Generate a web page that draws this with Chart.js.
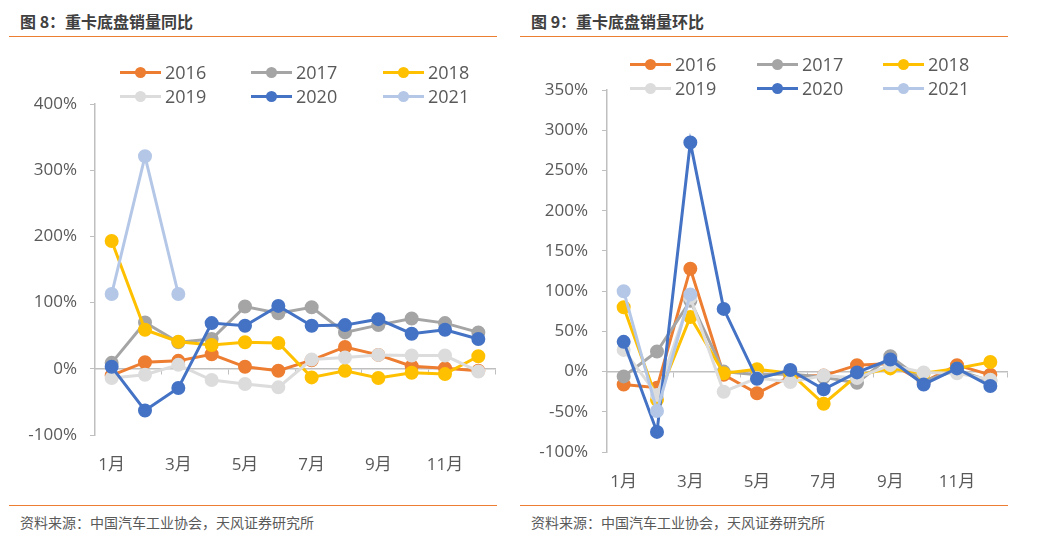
<!DOCTYPE html>
<html>
<head>
<meta charset="utf-8">
<script src="https://cdn.jsdelivr.net/npm/chart.js@4.4.1/dist/chart.umd.min.js"></script>
<style>
body { margin: 0; width: 1042px; height: 543px; background: #fff; position: relative; overflow: hidden;
  font-family: "Open Sans", "Noto Sans CJK SC", sans-serif; color: #595959; }
.title { position: absolute; top: 9px; font-size: 16px; font-weight: bold; color: #404040; line-height: 24px;
  font-family: "Noto Sans CJK SC", sans-serif; }
.rule { position: absolute; height: 1px; background: #ED7D31; }
.src { position: absolute; top: 512px; font-size: 14px; line-height: 20px; color: #595959;
  font-family: "Noto Sans CJK SC", sans-serif; }
canvas { position: absolute; }
.lg { position: absolute; }
.lgtx { position: absolute; font-size: 18px; line-height: 24px; color: #595959; }
</style>
</head>
<body>
<div class="title" style="left:20px">图 8：重卡底盘销量同比</div>
<div class="title" style="left:531px">图 9：重卡底盘销量环比</div>
<div class="rule" style="left:9px;width:488px;top:36px"></div>
<div class="rule" style="left:520px;width:488px;top:36px"></div>
<div class="rule" style="left:9px;width:488px;top:505px"></div>
<div class="rule" style="left:520px;width:488px;top:505px"></div>
<div class="src" style="left:20px">资料来源：中国汽车工业协会，天风证券研究所</div>
<div class="src" style="left:531px">资料来源：中国汽车工业协会，天风证券研究所</div>
<canvas id="yoyChart" width="510" height="415" style="left:0;top:80px"></canvas>
<canvas id="momChart" width="510" height="434" style="left:520px;top:66px"></canvas>
<div id="legends"></div>
<script>
const months = ["1月", "2月", "3月", "4月", "5月", "6月", "7月", "8月", "9月", "10月", "11月", "12月"];
const years = ["2016", "2017", "2018", "2019", "2020", "2021"];
const colors = ["#ED7D31", "#A5A5A5", "#FFC000", "#DCDCDC", "#4472C4", "#B4C7E7"];

// 同比 (%)
const yoy2016 = [-10, 10, 12, 22, 3, -3, 13, 33, 21, 4, 1, -3];
const yoy2017 = [9, 70, 40, 45, 94, 84, 93, 55, 66, 76, 69, 55];
const yoy2018 = [193, 59, 41, 36, 40, 39, -13, -3, -14, -6, -8, 19];
const yoy2019 = [-14, -9, 6, -17, -23, -28, 14, 17, 21, 20, 20, -4];
const yoy2020 = [3, -63, -29, 69, 65, 95, 65, 66, 75, 53, 59, 45];
const yoy2021 = [113, 321, 113];

// 环比 (%)
const mom2016 = [-16, -20, 128, -4, -27, -6, -5, 8, 10, -13, 8, -4];
const mom2017 = [-6, 25, 88, 0, -4, -3, -7, -14, 19, -12, 2, -12];
const mom2018 = [80, -35, 68, -2, 3, -2, -40, -5, 4, -2, 4, 12];
const mom2019 = [27, -29, 92, -25, -8, -13, -5, -8, 8, -1, -2, -10];
const mom2020 = [37, -75, 285, 78, -9, 2, -22, -1, 15, -16, 4, -18];
const mom2021 = [100, -49, 96];

const yoyTicks = { min: -100, max: 400, step: 100 };
const momTicks = { min: -100, max: 350, step: 50 };

const axisColor = "#BFBFBF";
const textColor = "#595959";
const tickFont = { family: "'Open Sans', 'Noto Sans CJK SC', sans-serif", size: 17 };

const renderChart = (id, series, range, box) => {
	const datasets = years.map((year, i) => ({
		label: year,
		data: series[i],
		borderColor: colors[i],
		backgroundColor: colors[i],
		borderWidth: 3,
		pointRadius: 5.5,
		pointHoverRadius: 5.5,
		tension: 0,
		xAxisID: "x",
		order: years.length - i,
	}));

	new Chart(id, {
		type: "line",
		data: { labels: months, datasets },
		options: {
			responsive: false,
			animation: false,
			devicePixelRatio: 1,
			layout: { padding: { left: 0, right: box.right, top: box.top, bottom: 0 } },
			plugins: { legend: { display: false }, tooltip: { enabled: false } },
			scales: {
				x: {
					type: "category",
					position: { y: 0 },
					offset: true,
					grid: {
						offset: true,
						drawOnChartArea: false,
						tickLength: 5,
						tickColor: (ctx) => (ctx.index === undefined || ctx.index % 2 === 0 ? axisColor : "rgba(0,0,0,0)"),
					},
					border: { color: axisColor, width: 1.5 },
					ticks: { display: false },
				},
				x2: {
					axis: "x",
					type: "category",
					labels: months,
					position: "bottom",
					offset: true,
					grid: { display: false, drawTicks: false },
					border: { display: false },
					ticks: {
						autoSkip: false,
						maxRotation: 0,
						color: textColor,
						font: tickFont,
						padding: 20,
						callback: (v, i) => (i % 2 === 0 ? months[i] : ""),
					},
					afterFit: (s) => { s.height = box.xh; },
				},
				y: {
					min: range.min,
					max: range.max,
					ticks: {
						stepSize: range.step,
						color: textColor,
						font: tickFont,
						padding: box.ypad,
						callback: (v) => v + "%",
					},
					grid: { drawOnChartArea: false, tickLength: 5, color: axisColor },
					border: { color: axisColor, width: 1.5 },
					afterFit: (s) => { s.width = box.yw; },
				},
			},
		},
	});
};

const buildLegend = (colsX, rowsY) => {
	const host = document.getElementById("legends");
	years.forEach((year, i) => {
		const x = colsX[i % 3];
		const y = rowsY[Math.floor(i / 3)];
		const line = document.createElement("div");
		line.className = "lg";
		line.style.cssText = `left:${x}px;top:${y - 1.5}px;width:41px;height:3px;background:${colors[i]}`;
		const dot = document.createElement("div");
		dot.className = "lg";
		dot.style.cssText = `left:${x + 15}px;top:${y - 5.5}px;width:11px;height:11px;border-radius:50%;background:${colors[i]}`;
		const tx = document.createElement("div");
		tx.className = "lgtx";
		tx.style.cssText = `left:${x + 45}px;top:${y - 12}px`;
		tx.textContent = year;
		host.append(line, dot, tx);
	});
};

renderChart("yoyChart", [yoy2016, yoy2017, yoy2018, yoy2019, yoy2020, yoy2021], yoyTicks,
	{ right: 15, top: 24, xh: 60, yw: 95, ypad: 13 });
renderChart("momChart", [mom2016, mom2017, mom2018, mom2019, mom2020, mom2021], momTicks,
	{ right: 23, top: 22, xh: 48, yw: 87, ypad: 14 });

buildLegend([120, 251, 383], [72, 96]);
buildLegend([630, 757, 883], [64, 88]);
</script>
</body>
</html>
